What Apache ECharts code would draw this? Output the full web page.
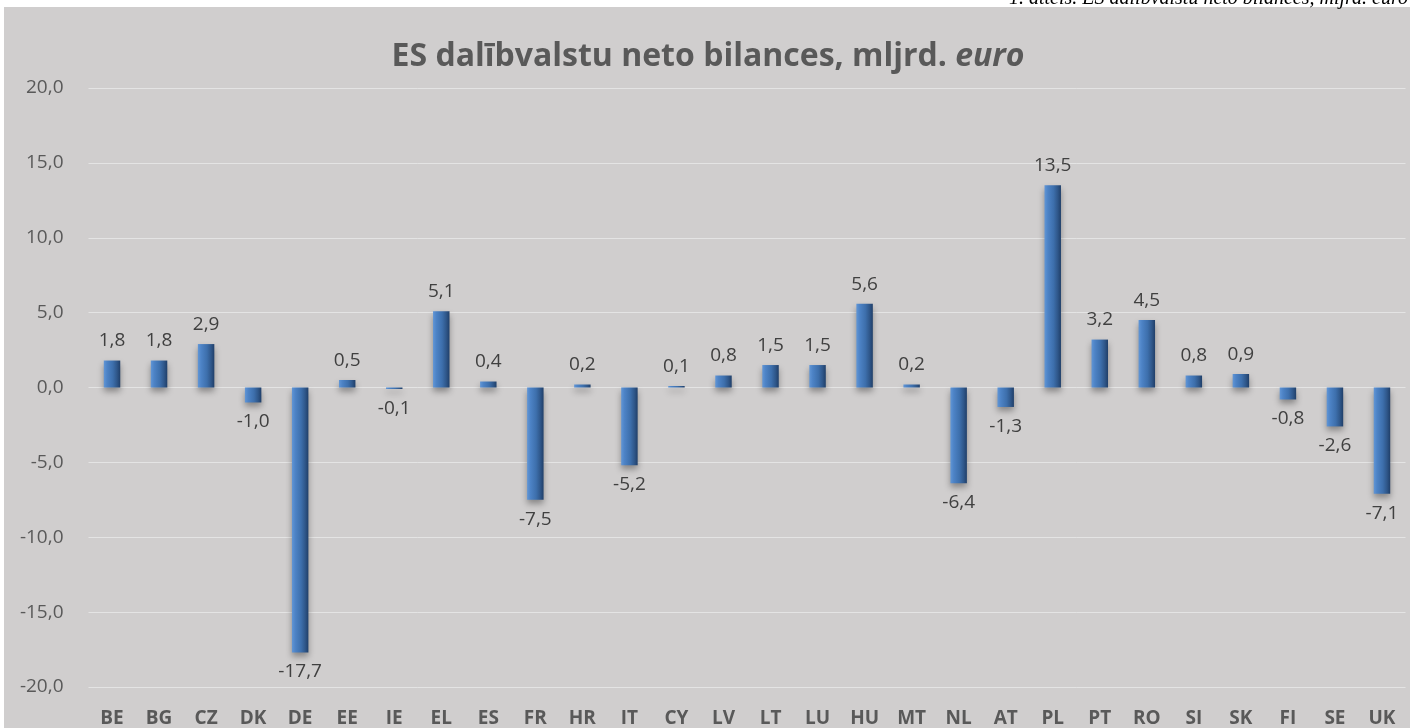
<!DOCTYPE html>
<html>
<head>
<meta charset="utf-8">
<script src="https://cdn.jsdelivr.net/npm/echarts@6/dist/echarts.min.js"></script>
<style>
body { margin: 0; background: #ffffff; }
#bg { position: absolute; left: 4px; top: 7px; width: 1406px; height: 721px; background: #d0cece; }
#chart { position: absolute; left: 0; top: 0; width: 1416px; height: 728px; }
</style>
</head>
<body>
<div id="bg"></div>
<div id="chart"></div>
<script>
// dalībvalstis un neto bilances (mljrd. euro)
const countries = ['BE', 'BG', 'CZ', 'DK', 'DE', 'EE', 'IE', 'EL', 'ES', 'FR', 'HR', 'IT', 'CY', 'LV',
    'LT', 'LU', 'HU', 'MT', 'NL', 'AT', 'PL', 'PT', 'RO', 'SI', 'SK', 'FI', 'SE', 'UK'];
const balances = [1.8, 1.8, 2.9, -1.0, -17.7, 0.5, -0.1, 5.1, 0.4, -7.5, 0.2, -5.2, 0.1, 0.8,
    1.5, 1.5, 5.6, 0.2, -6.4, -1.3, 13.5, 3.2, 4.5, 0.8, 0.9, -0.8, -2.6, -7.1];

const fmt = v => Number(v).toFixed(1).replace('.', ',');

const myChart = echarts.init(document.getElementById('chart'));

const option = {
    backgroundColor: 'transparent',
    animation: false,
    title: {
        text: '{b|ES dalībvalstu neto bilances, mljrd. }{i|euro}',
        left: 'center',
        top: 36,
        textStyle: {
            rich: {
                b: { fontFamily: 'Open Sans', fontSize: 32, fontWeight: 'bold', color: '#595959' },
                i: { fontFamily: 'Open Sans', fontSize: 32, fontWeight: 'bold', fontStyle: 'italic', color: '#595959' }
            }
        }
    },
    graphic: [{
        type: 'text',
        right: 8,
        top: -11,
        style: {
            text: '1. attēls. ES dalībvalstu neto bilances, mljrd. euro',
            font: 'italic 20px "Liberation Serif"',
            fill: '#000000'
        }
    }],
    grid: {
        left: 88.5,
        right: 10.5,
        top: 88,
        bottom: 40
    },
    xAxis: {
        type: 'category',
        data: countries,
        axisLine: { show: false },
        axisTick: { show: false },
        axisLabel: {
            margin: 22,
            fontFamily: 'Open Sans',
            fontSize: 19,
            fontWeight: 'bold',
            color: '#595959'
        }
    },
    yAxis: {
        type: 'value',
        min: -20,
        max: 20,
        interval: 5,
        axisLine: { show: false },
        axisTick: { show: false },
        splitLine: { lineStyle: { color: '#e4e4e4', width: 1 } },
        axisLabel: {
            margin: 25,
            fontFamily: 'Open Sans',
            fontSize: 19,
            color: '#595959',
            formatter: fmt
        }
    },
    series: [{
        type: 'bar',
        barWidth: '35%',
        data: balances.map(v => ({
            value: v,
            label: { position: v < 0 ? 'bottom' : 'top' }
        })),
        itemStyle: {
            color: new echarts.graphic.LinearGradient(0, 0, 1, 0, [
                { offset: 0, color: '#6196d6' },
                { offset: 0.2, color: '#4d83c6' },
                { offset: 0.55, color: '#3d6fac' },
                { offset: 0.8, color: '#2f578a' },
                { offset: 1, color: '#203f69' }
            ]),
            shadowColor: 'rgba(0,0,0,0.35)',
            shadowBlur: 6,
            shadowOffsetY: 4
        },
        label: {
            show: true,
            distance: 10,
            fontFamily: 'Open Sans',
            fontSize: 19,
            color: '#404040',
            formatter: p => fmt(p.value)
        }
    }]
};

myChart.setOption(option);
window.addEventListener('resize', function () {
    myChart.resize();
});
</script>
</body>
</html>
